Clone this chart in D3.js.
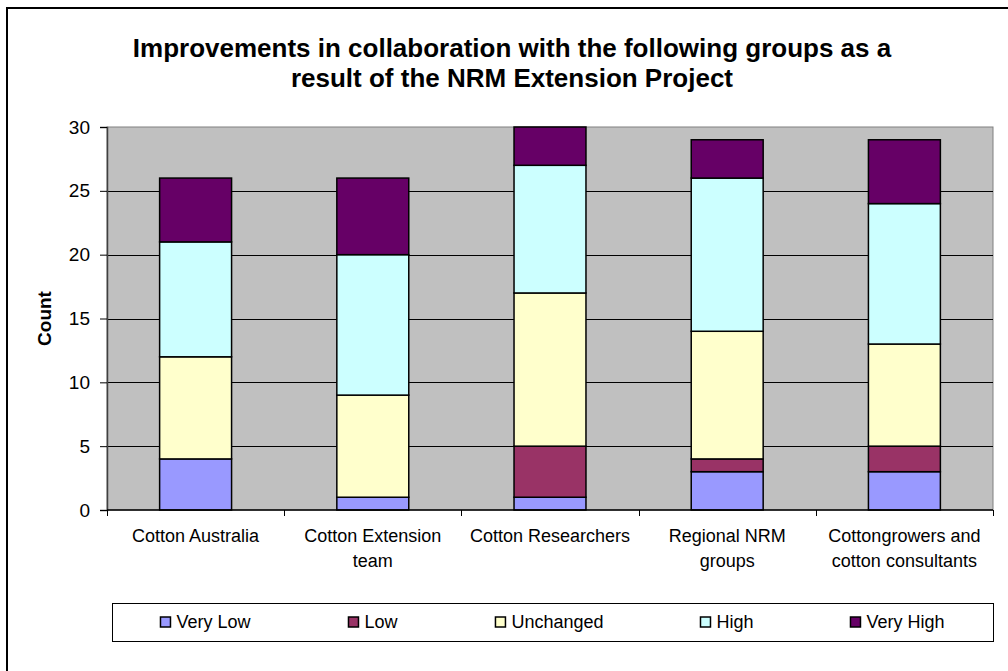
<!DOCTYPE html>
<html lang="en">
  <head>
    <meta charset="UTF-8">
    <title>Improvements in collaboration</title>
    <script src="https://d3js.org/d3.v7.min.js"></script>
    <style>
      body {
        margin: 0;
        padding: 0;
        background-color: #fff;
        font-family: 'Liberation Sans', Arial, sans-serif;
      }
      svg text {
        fill: #000;
      }
    </style>
  </head>
  <body>
    <script>
      // chart data
      const groups = ["Cotton Australia", "Cotton Extension team", "Cotton Researchers", "Regional NRM groups", "Cottongrowers and cotton consultants"];
      const groupLines = [["Cotton Australia"], ["Cotton Extension", "team"], ["Cotton Researchers"], ["Regional NRM", "groups"], ["Cottongrowers and", "cotton consultants"]];
      const levels = ["Very Low", "Low", "Unchanged", "High", "Very High"];
      const veryLow = [4, 1, 1, 3, 3];
      const low = [0, 0, 4, 1, 2];
      const unchanged = [8, 8, 12, 10, 8];
      const high = [9, 11, 10, 12, 11];
      const veryHigh = [5, 6, 3, 3, 5];
      const yTicks = [0, 5, 10, 15, 20, 25, 30];
      const colors = ["#9999FF", "#993366", "#FFFFCC", "#CCFFFF", "#660066"];

      const W = 1008, H = 671;
      const plot = {left: 107, top: 127, right: 993, bottom: 510};

      const rows = groups.map((g, i) => ({
        group: g,
        "Very Low": veryLow[i],
        "Low": low[i],
        "Unchanged": unchanged[i],
        "High": high[i],
        "Very High": veryHigh[i]
      }));
      const stacked = d3.stack().keys(levels)(rows);

      const svg = d3.select("body").append("svg").attr("width", W).attr("height", H);

      // chart frame (only top/left edges fall inside the picture)
      svg.append("rect").attr("x", 7).attr("y", 8).attr("width", W + 20).attr("height", H + 20)
        .attr("fill", "#fff").attr("stroke", "#000").attr("stroke-width", 2);

      svg.append("text").attr("x", 512).attr("y", 57).attr("text-anchor", "middle")
        .style("font-size", "26px").style("font-weight", "bold")
        .text("Improvements in collaboration with the following groups as a");
      svg.append("text").attr("x", 512).attr("y", 87).attr("text-anchor", "middle")
        .style("font-size", "26px").style("font-weight", "bold")
        .text("result of the NRM Extension Project");

      const x = d3.scaleBand().domain(groups).range([plot.left, plot.right]).paddingInner(0.594).paddingOuter(0.297);
      const y = d3.scaleLinear().domain([0, 30]).range([plot.bottom, plot.top]);

      // plot area
      svg.append("rect").attr("x", plot.left).attr("y", plot.top)
        .attr("width", plot.right - plot.left).attr("height", plot.bottom - plot.top)
        .attr("fill", "#C0C0C0").attr("stroke", "#808080").attr("stroke-width", 1);

      // gridlines
      svg.append("g").selectAll("line").data(yTicks.filter(t => t > 0 && t < 30)).join("line")
        .attr("x1", plot.left).attr("x2", plot.right)
        .attr("y1", d => Math.round(y(d)) + 0.5).attr("y2", d => Math.round(y(d)) + 0.5)
        .attr("stroke", "#000").attr("stroke-width", 1);

      // y axis
      const yAxis = svg.append("g").attr("transform", `translate(${plot.left},0)`)
        .call(d3.axisLeft(y).tickValues(yTicks).tickSize(7).tickPadding(10));
      yAxis.select(".domain").attr("stroke", "#404040").attr("stroke-width", 1.5);
      yAxis.selectAll(".tick line").attr("stroke", "#000");
      yAxis.selectAll("text").style("font-size", "19px").style("font-family", "'Liberation Sans', Arial, sans-serif");

      svg.append("text").attr("transform", `translate(44,${(plot.top + plot.bottom) / 2}) rotate(-90)`)
        .attr("text-anchor", "middle").attr("dy", "0.35em")
        .style("font-size", "19px").style("font-weight", "bold").text("Count");

      // bars
      svg.append("g").selectAll("g").data(stacked).join("g")
        .attr("fill", (d, i) => colors[i])
        .selectAll("rect").data(d => d.filter(s => s[1] > s[0])).join("rect")
        .attr("x", d => x(d.data.group))
        .attr("width", x.bandwidth())
        .attr("y", d => y(d[1]))
        .attr("height", d => y(d[0]) - y(d[1]))
        .attr("stroke", "#000").attr("stroke-width", 1.5);

      // x axis line and category ticks
      const step = x.step();
      const edges = d3.range(groups.length + 1).map(i => plot.left + i * step);
      svg.append("line").attr("x1", plot.left).attr("x2", plot.right)
        .attr("y1", plot.bottom).attr("y2", plot.bottom).attr("stroke", "#000").attr("stroke-width", 1.5);
      svg.append("g").selectAll("line").data(edges).join("line")
        .attr("x1", d => Math.round(d) + 0.5).attr("x2", d => Math.round(d) + 0.5)
        .attr("y1", plot.bottom).attr("y2", plot.bottom + 6).attr("stroke", "#000");

      // category labels
      const labels = svg.append("g").selectAll("text").data(groups).join("text")
        .attr("x", d => x(d) + x.bandwidth() / 2)
        .attr("y", 542)
        .attr("text-anchor", "middle")
        .style("font-size", "18px");
      labels.each(function(d, i) {
        d3.select(this).selectAll("tspan").data(groupLines[i]).join("tspan")
          .attr("x", x(d) + x.bandwidth() / 2)
          .attr("dy", (t, j) => j === 0 ? 0 : 25)
          .text(t => t);
      });

      // legend
      const legend = {left: 112, top: 603, right: 993, bottom: 641};
      svg.append("rect").attr("x", legend.left + 0.5).attr("y", legend.top + 0.5)
        .attr("width", legend.right - legend.left).attr("height", legend.bottom - legend.top)
        .attr("fill", "#fff").attr("stroke", "#000").attr("stroke-width", 1);
      const items = svg.append("g").selectAll("g").data(levels).join("g");
      items.append("rect").attr("width", 10).attr("height", 10).attr("y", -5)
        .attr("fill", (d, i) => colors[i]).attr("stroke", "#000").attr("stroke-width", 1.5);
      items.append("text").attr("x", 16).attr("dy", "0.35em").style("font-size", "18px").text(d => d);
      const widths = [];
      items.each(function() { widths.push(this.getBBox().width); });
      const gap = (legend.right - legend.left - d3.sum(widths)) / levels.length;
      let cx = legend.left + gap / 2;
      items.attr("transform", (d, i) => {
        const t = `translate(${cx},${(legend.top + legend.bottom) / 2})`;
        cx += widths[i] + gap;
        return t;
      });
    </script>
  </body>
</html>
